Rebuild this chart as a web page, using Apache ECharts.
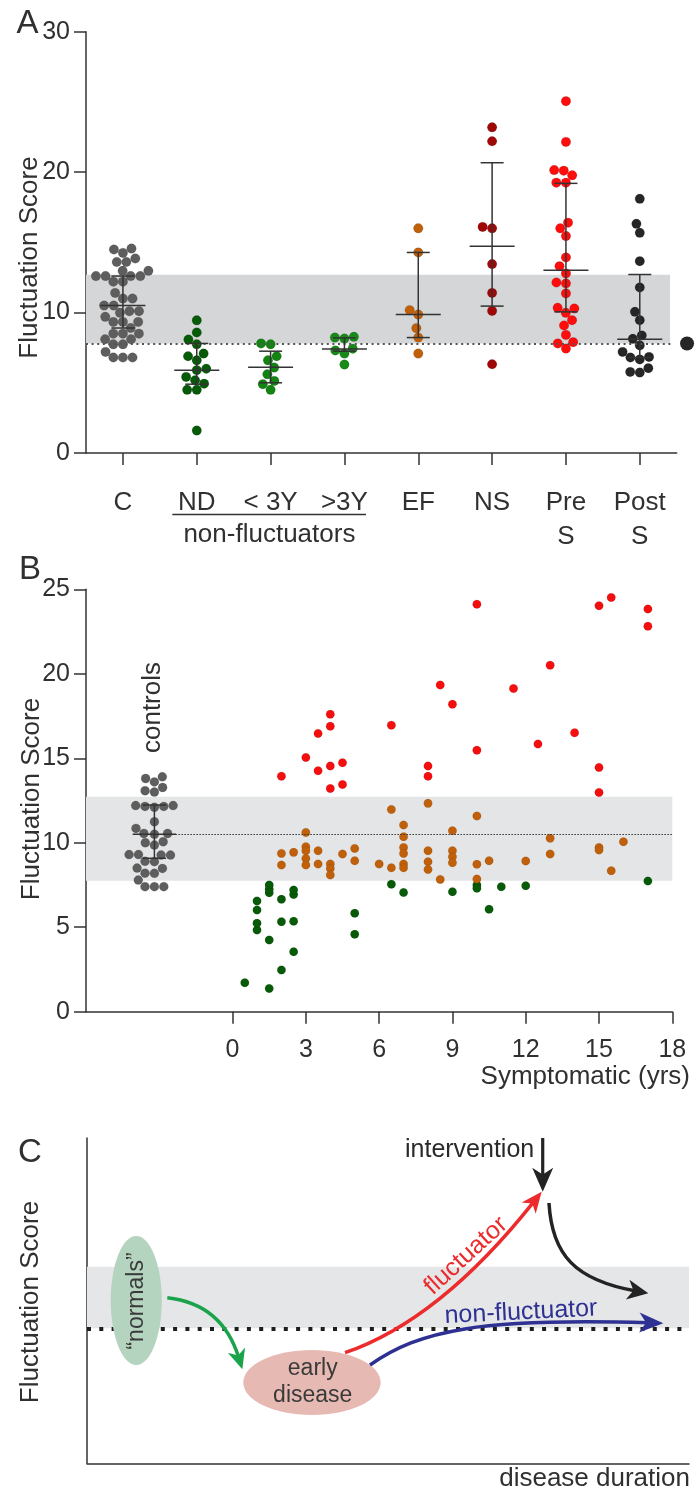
<!DOCTYPE html>
<html><head><meta charset="utf-8">
<script src="https://cdn.jsdelivr.net/npm/echarts@6/dist/echarts.min.js"></script>
<style>html,body{margin:0;padding:0;background:#fff}#c{width:698px;height:1494px}</style>
</head><body><div id="c"></div>
<script>
const FONT = '"Liberation Sans", Arial, Helvetica, sans-serif';
const TXT = '#303030';

// ---------- Panel A data ----------
const catLabels = ['C', 'ND', '< 3Y', '>3Y', 'EF', 'NS', 'Pre\nS', 'Post\nS'];
const scoresC = [14.56,14.49,14.25,13.85,13.6,13.6,12.97,12.97,12.6,12.6,12.6,12.6,12.2,12.2,11.4,11.0,11.0,10.5,10.5,10.1,10.1,9.98,9.7,9.33,9.33,9.33,8.9,8.5,8.5,8.5,8.1,8.1,7.74,7.74,7.2,6.8,6.8,6.8];
const scoresND = [9.45,8.58,8.08,7.74,7.08,6.89,6.6,6.0,5.9,5.42,5.18,4.94,4.5,4.5,1.6];
const scoresLT3Y = [7.8,7.74,6.89,6.6,6.08,5.6,5.13,4.9,4.5];
const scoresGT3Y = [8.27,8.22,8.15,7.43,7.3,7.08,6.3];
const scoresEF = [16.0,14.28,10.17,9.86,8.89,8.22,7.08];
const scoresNS = [23.19,22.2,16.1,16.0,13.45,11.4,10.12,6.32];
const scoresPreS = [25.05,22.15,20.15,20.1,19.77,19.25,19.25,16.4,16.0,15.45,13.93,13.3,12.79,12.14,12.07,11.36,10.34,10.29,9.98,9.46,9.08,8.41,7.89,7.8,7.44];
const scoresPostS = [18.1,16.32,15.68,13.66,11.79,10.05,9.46,8.37,8.13,7.66,7.2,6.84,6.8,6.66,6.04,5.77,5.73];
const barLowA  = [8.9, 4.9, 5.0, 7.25, 8.22, 10.46, 10.05, 6.8];
const barMeanA = [10.5, 5.9, 6.1, 7.4, 9.86, 14.73, 13.02, 8.1];
const barHighA = [12.6, 7.8, 7.25, 8.2, 14.28, 20.67, 19.2, 12.71];
const normalBandA = [7.8, 12.7];
const thresholdA = [7.8];

// ---------- Panel B data ----------
const yearTicks = [0, 3, 6, 9, 12, 15, 18];
const scoresControlsB = [13.9,13.8,13.6,13.27,13.08,13.0,12.2,12.15,12.15,12.1,12.2,11.24,10.85,10.55,10.55,10.5,10.06,10.0,9.86,9.3,9.27,9.3,9.27,8.9,8.88,8.48,8.5,8.2,8.19,7.79,7.4,7.4,7.4];
const barB = [9.08, 10.5, 12.23];
const normalBandB = [7.75, 12.72];
const controlMeanB = [10.5];
const greenYears  = [0.5,1.5,2,2.5,1.5,1,1,2,2.5,1,1,2,1.5,1.5,1.5,2.5,2.5,5,5,6.5,7,9,10,10,10.5,11,12,17];
const greenScores = [1.72,1.38,2.47,3.55,4.24,4.83,5.23,5.33,5.36,6.02,6.55,6.65,7.04,7.24,7.5,6.94,7.2,5.82,4.58,7.55,7.06,7.1,7.5,7.3,6.07,7.4,7.46,7.73];
const orangeYears  = [2,2,2.5,3,3,3,3,3,3.5,3.5,4,4,4,4.5,5,5,6,6.5,6.5,7,7,7,7,7,7,8,8,8,8,8.5,9,9,9,9,10,10,10,10.5,12,13,13,15,15,15.5,16];
const orangeScores = [8.68,9.37,9.43,10.61,9.76,9.53,9.07,8.68,9.53,8.74,8.74,8.48,8.09,9.33,9.66,8.94,8.74,11.97,8.52,11.05,10.36,9.72,9.37,8.74,8.52,12.33,9.53,8.88,8.42,7.83,10.71,9.53,9.17,8.82,11.58,8.72,7.85,8.94,8.92,10.26,9.33,9.72,9.57,8.34,10.06];
const redYears  = [2,3,3.5,4,4,3.5,4,4.5,4,4.5,6.5,8.5,9,10,10,8,8,11.5,12.5,13,14,15,15.5,15,15,17,17];
const redScores = [13.94,15.05,16.47,16.9,17.61,14.26,14.54,14.73,13.21,13.45,16.96,19.33,18.19,24.12,15.48,14.54,13.94,19.13,15.84,20.51,16.51,24.02,24.52,14.46,12.98,23.83,22.82];

// ---------- Panel C (schematic, in its own 0-100 axis units) ----------
const bandC = [41.5, 60.4];

const chart = echarts.init(document.getElementById('c'));
const axisLine = {lineStyle: {color: '#333', width: 1.5}, onZero: false};
const tickStyle = {color: '#333', width: 1.5};

function baseOption() {
  return {
    animation: false,
    textStyle: {fontFamily: FONT},
    grid: [
      {left: 86, top: 31.7, width: 590.7, height: 421.3},
      {left: 86, top: 589.3, width: 586.3, height: 422.4},
      {left: 87, top: 1138, width: 602, height: 325.3}
    ],
    xAxis: [
      {gridIndex: 0, type: 'value', min: -0.5, max: 7.5, splitLine: {show: false}, axisLine,
       axisTick: {customValues: [0,1,2,3,4,5,6,7], length: 12, lineStyle: tickStyle},
       axisLabel: {customValues: [0,1,2,3,4,5,6,7], formatter: v => catLabels[Math.round(v)],
         fontSize: 26, color: TXT, margin: 33, lineHeight: 34, fontFamily: FONT}},
      {gridIndex: 1, type: 'value', min: -6, max: 18, interval: 3, splitLine: {show: false}, axisLine,
       axisTick: {customValues: yearTicks, length: 12, lineStyle: tickStyle},
       axisLabel: {customValues: yearTicks, fontSize: 25, color: TXT, margin: 26, fontFamily: FONT}},
      {gridIndex: 2, type: 'value', min: 0, max: 100, splitLine: {show: false}, axisLine,
       axisTick: {show: false}, axisLabel: {show: false}}
    ],
    yAxis: [
      {gridIndex: 0, type: 'value', min: 0, max: 30, interval: 10, splitLine: {show: false}, axisLine,
       axisTick: {show: true, length: 12, lineStyle: tickStyle},
       axisLabel: {fontSize: 25, color: TXT, margin: 16, fontFamily: FONT}},
      {gridIndex: 1, type: 'value', min: 0, max: 25, interval: 5, splitLine: {show: false}, axisLine,
       axisTick: {show: true, length: 12, lineStyle: tickStyle},
       axisLabel: {fontSize: 25, color: TXT, margin: 16, fontFamily: FONT}},
      {gridIndex: 2, type: 'value', min: 0, max: 100, splitLine: {show: false}, axisLine,
       axisTick: {show: false}, axisLabel: {show: false}}
    ],
    series: []
  };
}
chart.setOption(baseOption());

// pixel scales from the library
const pxA = chart.convertToPixel({xAxisIndex: 0}, 1) - chart.convertToPixel({xAxisIndex: 0}, 0);
const pyA = chart.convertToPixel({yAxisIndex: 0}, 0) - chart.convertToPixel({yAxisIndex: 0}, 1);
const pxB = chart.convertToPixel({xAxisIndex: 1}, 1) - chart.convertToPixel({xAxisIndex: 1}, 0);
const pyB = chart.convertToPixel({yAxisIndex: 1}, 0) - chart.convertToPixel({yAxisIndex: 1}, 1);

function swarm(vals, pyPerUnit, d) {
  const order = vals.map((v, i) => i).sort((a, b) => vals[a] - vals[b]);
  const placed = [], off = new Array(vals.length).fill(0);
  for (const i of order) {
    const y = vals[i] * pyPerUnit;
    const cands = [0];
    for (const p of placed) {
      const dy = y - p.y;
      if (Math.abs(dy) < d) { const dx = Math.sqrt(d * d - dy * dy); cands.push(p.x + dx, p.x - dx); }
    }
    cands.sort((a, b) => Math.abs(a) - Math.abs(b) || a - b);
    let best = 0;
    for (const c of cands) {
      if (placed.every(p => (c - p.x) ** 2 + (y - p.y) ** 2 >= d * d - 0.01)) { best = c; break; }
    }
    placed.push({x: best, y}); off[i] = best;
  }
  return off;
}

const groupsA = [scoresC, scoresND, scoresLT3Y, scoresGT3Y, scoresEF, scoresNS, scoresPreS, scoresPostS];
const colorsA = ['#5e5e5e', '#075a07', '#128412', '#178a17', '#c0600a', '#a00808', '#ff0c0c', '#262626'];

const option = baseOption();
const S = option.series;

// Panel A band + threshold
S.push({type: 'line', xAxisIndex: 0, yAxisIndex: 0, data: [], silent: true, z: 1,
  markArea: {silent: true, itemStyle: {color: '#d5d6d8'},
    data: [[{coord: [-0.5, normalBandA[0]]}, {coord: [7.41, normalBandA[1]]}]]},
  markLine: {silent: true, symbol: 'none', label: {show: false},
    lineStyle: {color: '#555', type: [2, 3.6], width: 2},
    data: [[{coord: [-0.5, thresholdA[0]]}, {coord: [7.45, thresholdA[0]]}]]}
});
groupsA.forEach((vals, k) => {
  const off = swarm(vals, pyA, 9.6);
  S.push({type: 'scatter', xAxisIndex: 0, yAxisIndex: 0, z: 3, symbolSize: 9.5,
    itemStyle: {color: colorsA[k], opacity: 1, borderColor: 'rgba(0,0,0,0.2)', borderWidth: 0.6},
    data: vals.map((v, i) => [k + off[i] / pxA, v])});
});
function errRender(capHalf, meanHalf) {
  return function (params, api) {
    const x = api.value(0);
    const lo = api.coord([x, api.value(1)]), mid = api.coord([x, api.value(2)]), hi = api.coord([x, api.value(3)]);
    const st = {stroke: '#333', lineWidth: 1.5};
    return {type: 'group', children: [
      {type: 'line', shape: {x1: lo[0], y1: lo[1], x2: hi[0], y2: hi[1]}, style: st},
      {type: 'line', shape: {x1: lo[0] - capHalf, y1: lo[1], x2: lo[0] + capHalf, y2: lo[1]}, style: st},
      {type: 'line', shape: {x1: hi[0] - capHalf, y1: hi[1], x2: hi[0] + capHalf, y2: hi[1]}, style: st},
      {type: 'line', shape: {x1: mid[0] - meanHalf, y1: mid[1], x2: mid[0] + meanHalf, y2: mid[1]}, style: st}
    ]};
  };
}
S.push({type: 'custom', xAxisIndex: 0, yAxisIndex: 0, z: 5, silent: true,
  renderItem: errRender(11.5, 22.5), encode: {x: 0, y: [1, 2, 3]},
  data: barMeanA.map((m, k) => [k, barLowA[k], m, barHighA[k]])});
S.push({type: 'scatter', xAxisIndex: 0, yAxisIndex: 0, z: 3, clip: false, symbolSize: 14,
  itemStyle: {color: '#262626', opacity: 1}, data: [[7.64, thresholdA[0]]]});

// Panel B
S.push({type: 'line', xAxisIndex: 1, yAxisIndex: 1, data: [], silent: true, z: 1,
  markArea: {silent: true, itemStyle: {color: '#e4e5e7'},
    data: [[{coord: [-6, normalBandB[0]]}, {coord: [18, normalBandB[1]]}]]},
  markLine: {silent: true, symbol: 'none', label: {show: false},
    lineStyle: {color: '#333', type: [1.5, 1.5], width: 1},
    data: [[{coord: [-3.2, controlMeanB[0]]}, {coord: [18, controlMeanB[0]]}]]}
});
const offB = swarm(scoresControlsB, pyB, 9.4);
S.push({type: 'scatter', xAxisIndex: 1, yAxisIndex: 1, z: 3, symbolSize: 9,
  itemStyle: {color: '#5e5e5e', opacity: 1, borderColor: 'rgba(0,0,0,0.2)', borderWidth: 0.6},
  data: scoresControlsB.map((v, i) => [-3.2 + offB[i] / pxB, v])});
S.push({type: 'custom', xAxisIndex: 1, yAxisIndex: 1, z: 5, silent: true,
  renderItem: errRender(11.7, 21.7), encode: {x: 0, y: [1, 2, 3]},
  data: [[-3.2, barB[0], barB[1], barB[2]]]});
[[greenYears, greenScores, '#075a07'], [orangeYears, orangeScores, '#c0600a'], [redYears, redScores, '#f50e0e']]
  .forEach(([xs, ys, col]) => {
    S.push({type: 'scatter', xAxisIndex: 1, yAxisIndex: 1, z: 3, symbolSize: 8.5,
      itemStyle: {color: col, opacity: 1, borderColor: 'rgba(0,0,0,0.15)', borderWidth: 0.5},
      data: xs.map((x, i) => [x, ys[i]])});
  });

// Panel C band + threshold
S.push({type: 'line', xAxisIndex: 2, yAxisIndex: 2, data: [], silent: true, z: 1,
  markArea: {silent: true, itemStyle: {color: '#e5e6e8'},
    data: [[{coord: [0, bandC[0]]}, {coord: [100, bandC[1]]}]]},
  markLine: {silent: true, symbol: 'none', label: {show: false},
    lineStyle: {color: '#1e1e1e', type: [4, 8.3], width: 4, cap: 'butt'},
    data: [[{coord: [0, bandC[0]]}, {coord: [100, bandC[0]]}]]}
});

// ---------- graphics ----------
const G = [];
function txt(x, y, text, size, opts) {
  G.push(Object.assign({type: 'text', x, y, z: 100, silent: true,
    style: Object.assign({text, fill: TXT, fontSize: size, fontFamily: FONT, align: 'center', verticalAlign: 'middle'}, (opts && opts.style) || {})},
    opts && opts.el || {}));
}
txt(27.5, 23.5, 'A', 33);
txt(30, 570, 'B', 33);
txt(30, 1153, 'C', 33);
txt(30, 257.5, 'Fluctuation Score', 26, {el: {rotation: Math.PI / 2}});
txt(31.7, 799, 'Fluctuation Score', 26, {el: {rotation: Math.PI / 2}});
txt(31, 1302, 'Fluctuation Score', 26, {el: {rotation: Math.PI / 2}});
txt(153.3, 707.5, 'controls', 26, {el: {rotation: Math.PI / 2}});
txt(269.4, 535, 'non-fluctuators', 26);
G.push({type: 'line', z: 100, silent: true, shape: {x1: 172.3, y1: 514.5, x2: 366, y2: 514.5}, style: {stroke: '#333', lineWidth: 1.5}});
txt(690, 1077, 'Symptomatic (yrs)', 26, {style: {align: 'right'}});
txt(690, 1479, 'disease duration', 26, {style: {align: 'right'}});

// Panel C schematic, positioned in the panel's own axis units
const P = (x, y) => chart.convertToPixel({gridIndex: 2}, [x, y]);
function ellipse(cx, cy, rx, ry, fill) {
  const c = P(cx, cy), e = P(cx + rx, cy + ry);
  G.push({type: 'ellipse', z: 90, silent: true, shape: {cx: c[0], cy: c[1], rx: Math.abs(e[0] - c[0]), ry: Math.abs(e[1] - c[1])}, style: {fill}});
}
function arrow(pts, color, lw, headL, headW) {
  const px = pts.map(p => P(p[0], p[1]));
  const T = px[px.length - 1], Q = px[px.length - 2];
  let ux = T[0] - Q[0], uy = T[1] - Q[1];
  const len = Math.hypot(ux, uy); ux /= len; uy /= len;
  const nx = -uy, ny = ux;
  const E = [T[0] - ux * headL * 0.6, T[1] - uy * headL * 0.6];
  let shape;
  if (px.length === 4) shape = {x1: px[0][0], y1: px[0][1], cpx1: px[1][0], cpy1: px[1][1], cpx2: px[2][0], cpy2: px[2][1], x2: E[0], y2: E[1]};
  else if (px.length === 3) shape = {x1: px[0][0], y1: px[0][1], cpx1: px[1][0], cpy1: px[1][1], x2: E[0], y2: E[1]};
  else shape = {x1: px[0][0], y1: px[0][1], cpx1: (px[0][0] + E[0]) / 2, cpy1: (px[0][1] + E[1]) / 2, x2: E[0], y2: E[1]};
  G.push({type: 'bezierCurve', z: 95, silent: true, shape, style: {stroke: color, lineWidth: lw, fill: 'none'}});
  const head = [T,
    [T[0] - ux * headL + nx * headW, T[1] - uy * headL + ny * headW],
    [T[0] - ux * headL * 0.72, T[1] - uy * headL * 0.72],
    [T[0] - ux * headL - nx * headW, T[1] - uy * headL - ny * headW]];
  G.push({type: 'polygon', z: 96, silent: true, shape: {points: head}, style: {fill: color}});
}
function ctext(x, y, text, size, color, rot) {
  const p = P(x, y);
  txt(p[0], p[1], text, size, {style: {fill: color}, el: {rotation: rot || 0}});
}
ellipse(8.18, 50.05, 4.24, 19.83, '#b5d4bf');
ellipse(37.37, 24.84, 11.41, 9.99, '#e6b9b2');
ctext(8.3, 49.9, '\u201cnormals\u201d', 23, '#3a3a3a', Math.PI / 2);
{ const p = P(37.5, 24.8); txt(p[0], p[1], 'early\ndisease', 23, {style: {fill: '#3a3a3a', lineHeight: 27}}); }
arrow([[13.34, 50.9], [19.6, 49.6], [23.4, 43.4], [25.8, 28.9]], '#1ba34b', 3.5, 20, 9);
arrow([[42.86, 34.0], [58.64, 44.05], [75.53, 83.49]], '#ec2c2c', 3.5, 21, 9);
arrow([[47.01, 30.22], [55.3, 41.0], [65.3, 44.7], [95.73, 43.04]], '#2e3192', 3.5, 24, 10);
arrow([[76.74, 80.02], [77.24, 64.03], [81.06, 56.34], [93.24, 52.26]], '#232323', 3.5, 21, 10);
arrow([[75.7, 100], [75.7, 83.49]], '#232323', 3.2, 24, 10.5);
{ const p = P(52.82, 96.3); txt(p[0], p[1], 'intervention', 25, {style: {align: 'left', fill: '#2a2a2a'}}); }
ctext(62.96, 63.73, 'fluctuator', 25, '#ec2c2c', 0.74);
ctext(72.09, 46.4, 'non-fluctuator', 25, '#2e3192', 0.05);

option.graphic = G;
chart.setOption(option, true);
</script></body></html>
